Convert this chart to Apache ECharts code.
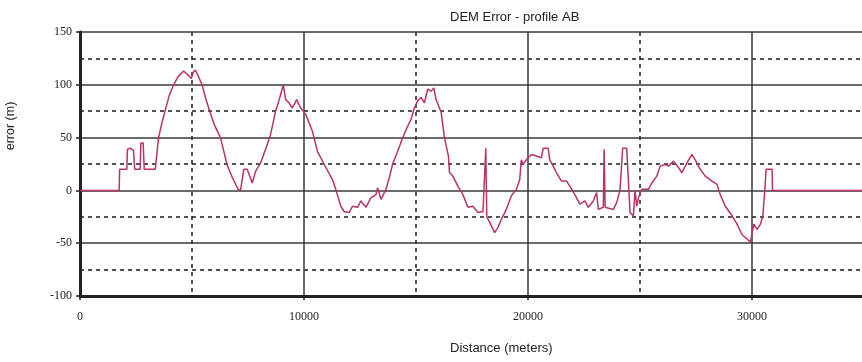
<!DOCTYPE html>
<html>
<head>
<meta charset="utf-8">
<script src="https://cdn.jsdelivr.net/npm/echarts@6/dist/echarts.min.js"></script>
<style>
  html, body { margin: 0; padding: 0; background: #fff; }
  #chart { width: 862px; height: 362px; }
</style>
</head>
<body>
<div id="chart"></div>
<script>
// distance along profile (m)
var distance = [
  0, 1747, 1770, 2091, 2118, 2239, 2387, 2441, 2687, 2718, 2821, 2866, 3359, 3506, 3672,
  3807, 3986, 4178, 4389, 4626, 4792, 4971, 5060, 5150, 5240, 5284, 5450, 5598, 5790, 6001,
  6270, 6570, 6807, 7062, 7165, 7313, 7465, 7689, 7837, 8061, 8361, 8509, 8733, 8880, 9077,
  9180, 9328, 9481, 9673, 9852, 10076, 10376, 10600, 10896, 11272, 11420, 11644, 11791, 12015, 12167,
  12391, 12539, 12763, 12987, 13211, 13287, 13435, 13659, 13807, 13959, 14183, 14407, 14631, 14778, 14926,
  15078, 15226, 15374, 15526, 15674, 15795, 15898, 16122, 16270, 16449, 16494, 16646, 16870, 17094, 17318,
  17542, 17766, 17990, 18070, 18115, 18160, 18285, 18509, 18661, 18809, 19033, 19257, 19481, 19628, 19704,
  19781, 19928, 20152, 20376, 20600, 20677, 20901, 20972, 21124, 21272, 21496, 21720, 21867, 22091, 22315,
  22539, 22692, 22915, 23063, 23139, 23363, 23399, 23444, 23511, 23811, 23958, 24106, 24183, 24227, 24406,
  24555, 24707, 24779, 24854, 24931, 25078, 25378, 25526, 25750, 25898, 26122, 26274, 26498, 26722, 26870,
  27094, 27318, 27465, 27689, 27913, 28213, 28437, 28584, 28808, 29109, 29333, 29557, 29781, 29928, 30081,
  30228, 30376, 30484, 30573, 30631, 30900, 30913, 35000
];
// DEM error (m)
var error = [
  0, 0, 20, 20, 39, 40, 38, 20, 20, 45, 45, 20, 20, 50, 65,
  76, 90, 100, 108, 113, 110, 106, 112, 114, 110, 108, 100, 88, 75, 62,
  50, 24, 12, 1, 0, 20, 20, 7, 18, 26, 43.5, 53, 75, 85, 100,
  86, 83, 78, 86, 78, 72, 56, 37, 25, 10, 1, -15, -20, -21, -15,
  -16, -10, -16, -7, -4, 2.5, -8.5, 1, 12, 25, 37, 50, 61, 67, 78,
  85, 88, 83, 96, 94, 97, 86, 74, 50, 32.5, 17, 13.5, 4, -4, -16,
  -15, -21, -20, -20, 40, -25, -30, -40, -35, -27.5, -18, -5, 1, 10, 29,
  24.6, 29, 34, 32.5, 31, 40, 40, 29, 23, 16.7, 8.8, 8.8, 4, -4, -13,
  -10, -16, -10, -2, -18, -16, 39, -16, -16, -18, -11.6, 0, 1, 40, 40,
  -21, -24, 0, -15, -7, 1, 1, 7, 13.5, 23, 24.6, 23, 27.7, 21.5, 16.7,
  26, 34, 29, 20, 13.5, 8.8, 5.7, -4, -15, -24, -32, -42, -46, -49, -32,
  -37, -32, -24, 1, 20, 20, 0, 0
];
var xTicks = ['0', '10000', '20000', '30000'];
var yTicks = ['-100', '-50', '0', '50', '100', '150'];

var points = distance.map(function (d, i) { return [d, error[i]]; });

var chart = echarts.init(document.getElementById('chart'));
var numFont = 'Liberation Serif';
var gridSolid = { color: '#3a3a3a', width: 1.5, type: 'solid' };
var gridDash = { color: '#2a2a2a', width: 1.6, type: [4, 4] };

chart.setOption({
  animation: false,
  backgroundColor: '#fff',
  // right edge of the plot runs just past the window, as in the source image
  grid: { left: 80, right: -2, top: 32, bottom: 66, outerBoundsMode: 'none', containLabel: false },
  graphic: [
    { type: 'text', left: 450, top: 11, style: { text: 'DEM Error - profile AB', font: '13px "Liberation Sans"', fill: '#222', textAlign: 'center' } },
    { type: 'text', left: 450, top: 342, style: { text: 'Distance (meters)', font: '13px "Liberation Sans"', fill: '#222', textAlign: 'center' } },
    { type: 'text', x: 11, y: 126, rotation: Math.PI / 2, style: { text: 'error (m)', font: '12.5px "Liberation Sans"', fill: '#222', align: 'center', verticalAlign: 'middle' } }
  ],
  xAxis: {
    type: 'value',
    min: 0,
    max: 35000,
    interval: 10000,
    axisLine: { show: true, onZero: false, lineStyle: { color: '#222', width: 3 } },
    axisTick: { show: true, length: 4, lineStyle: { color: '#222', width: 1.5 } },
    axisLabel: {
      margin: 15, color: '#222', fontFamily: numFont, fontSize: 12,
      formatter: function (v) { return xTicks.indexOf(String(v)) >= 0 ? String(v) : ''; }
    },
    splitLine: { show: true, lineStyle: gridSolid },
    minorTick: { show: false, splitNumber: 2 },
    minorSplitLine: { show: true, lineStyle: gridDash }
  },
  yAxis: {
    type: 'value',
    min: -100,
    max: 150,
    interval: 50,
    axisLine: { show: true, onZero: false, lineStyle: { color: '#222', width: 3 } },
    axisTick: { show: true, length: 4, lineStyle: { color: '#222', width: 1.5 } },
    axisLabel: {
      margin: 8, color: '#222', fontFamily: numFont, fontSize: 12,
      formatter: function (v) { return yTicks.indexOf(String(v)) >= 0 ? String(v) : ''; }
    },
    splitLine: { show: true, lineStyle: gridSolid },
    minorTick: { show: false, splitNumber: 2 },
    minorSplitLine: { show: true, lineStyle: gridDash }
  },
  series: [{
    type: 'line',
    data: points,
    showSymbol: false,
    symbol: 'none',
    lineStyle: { color: '#b8336a', width: 1.5 },
    z: 5
  }]
});
</script>
</body>
</html>
